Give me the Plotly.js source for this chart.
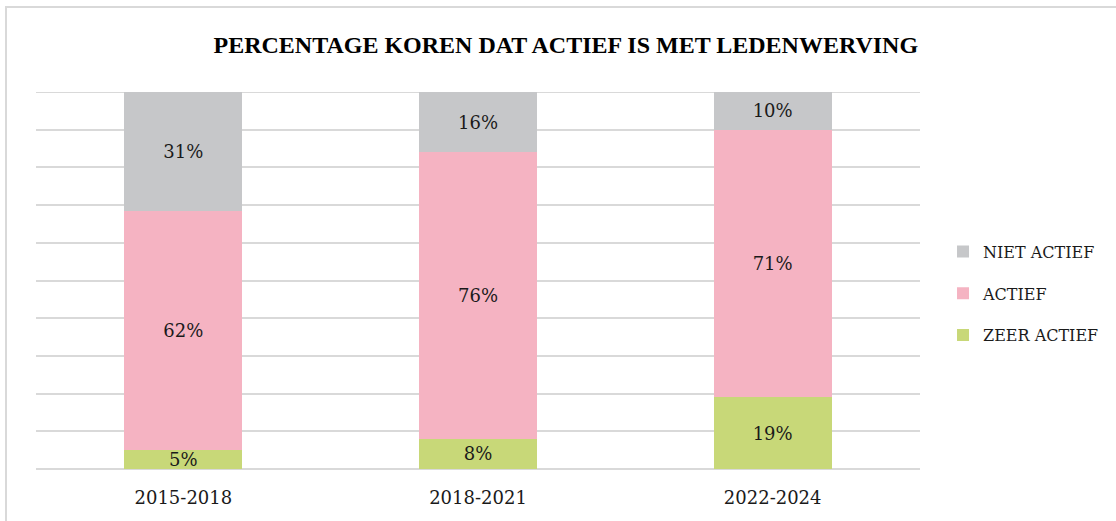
<!DOCTYPE html>
<html>
<head>
<meta charset="utf-8">
<script src="https://cdn.plot.ly/plotly-3.0.1.min.js"></script>
<style>
  html, body { margin: 0; padding: 0; background: #fff; }
  #wrap { position: relative; width: 1116px; height: 521px; }
  #chart { width: 1116px; height: 521px; }
  #frame { position: absolute; left: 5px; top: 6px; width: 1120px; height: 530px;
           border: 2px solid #d9d9d9; pointer-events: none; box-sizing: border-box; }
</style>
</head>
<body>
<div id="wrap">
  <div id="chart"></div>
  <div id="frame"></div>
</div>
<script>
const categories = ['2015-2018', '2018-2021', '2022-2024'];
const zeerActief = [5, 8, 19];
const actief = [62, 76, 71];
const nietActief = [31, 16, 10];
const seriesNames = ['ZEER ACTIEF', 'ACTIEF', 'NIET ACTIEF'];
const seriesColors = ['#c8d878', '#f5b3c2', '#c6c7c9'];
const legendRanks = [3, 2, 1];
const titleText = 'PERCENTAGE KOREN DAT ACTIEF IS MET LEDENWERVING';

const serif = '"DejaVu Serif", "Liberation Serif", serif';
const seriesValues = [zeerActief, actief, nietActief];

const traces = seriesValues.map((vals, i) => ({
  type: 'bar',
  name: seriesNames[i],
  x: categories,
  y: vals,
  text: vals.map(v => v + '%'),
  textposition: 'inside',
  insidetextanchor: 'middle',
  textfont: { family: serif, size: 18, color: '#1a1a1a' },
  marker: { color: seriesColors[i], line: { width: 0 } },
  legendgroup: 'g' + i,
  legendrank: legendRanks[i],
  hoverinfo: 'x+y+name'
}));

const layout = {
  width: 1116,
  height: 521,
  margin: { l: 36, r: 196, t: 92, b: 52, autoexpand: false },
  paper_bgcolor: '#ffffff',
  plot_bgcolor: '#ffffff',
  barmode: 'stack',
  barnorm: 'percent',
  bargap: 0.6,
  uniformtext: { mode: 'show', minsize: 18 },
  title: {
    text: '<b>' + titleText + '</b>',
    font: { family: '"Liberation Serif", serif', size: 24, color: '#000' },
    x: 0.507, xanchor: 'center', y: 0.915, yanchor: 'middle'
  },
  font: { family: serif, color: '#1a1a1a' },
  xaxis: {
    type: 'category',
    showgrid: false,
    zeroline: false,
    showline: false,
    ticks: '',
    tickfont: { family: serif, size: 18, color: '#1a1a1a' },
    ticklabelstandoff: 16
  },
  yaxis: {
    range: [0, 100],
    dtick: 10,
    showticklabels: false,
    showgrid: true,
    gridcolor: '#d9d9d9',
    gridwidth: 2,
    zeroline: true,
    zerolinecolor: '#d9d9d9',
    zerolinewidth: 2,
    showline: false,
    ticks: ''
  },
  shapes: [{
    type: 'line', xref: 'paper', yref: 'y', x0: 0, x1: 1, y0: 100, y1: 100,
    line: { color: '#d9d9d9', width: 2 }, layer: 'below'
  }],
  showlegend: true,
  legend: {
    xref: 'container', yref: 'container',
    x: 0.845, xanchor: 'left',
    y: 0.4365, yanchor: 'middle',
    traceorder: 'grouped',
    tracegroupgap: 18,
    font: { family: serif, size: 16, color: '#1a1a1a' },
    bgcolor: 'rgba(0,0,0,0)'
  }
};

Plotly.newPlot('chart', traces, layout, { displayModeBar: false, staticPlot: true });
</script>
</body>
</html>
